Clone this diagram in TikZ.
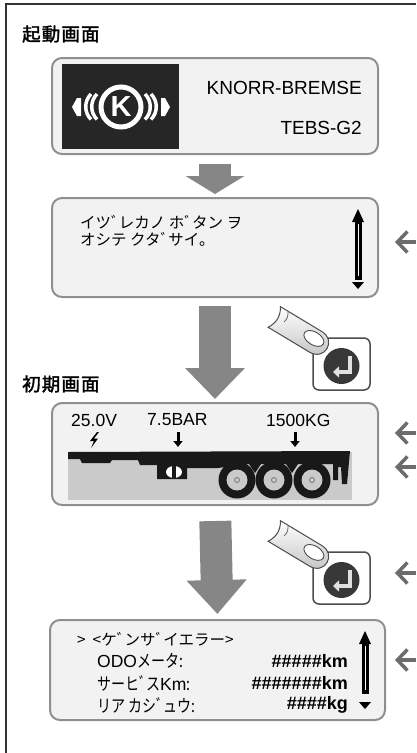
\documentclass[tikz,border=0pt]{standalone}
\usepackage{fontspec}
\setmainfont{Liberation Sans}
\newfontfamily\jp{Noto Sans CJK JP}
\newfontfamily\lcd[FakeStretch=0.8]{Noto Sans CJK JP}
\newfontfamily\headjp[FakeBold=1.8,LetterSpace=6]{Noto Sans CJK JP}
\usetikzlibrary{arrows.meta}

\definecolor{screenfill}{HTML}{F2F2F2}
\definecolor{screenline}{HTML}{8F8F8F}
\definecolor{flowgray}{HTML}{868686}
\definecolor{pointgray}{HTML}{6C6C6C}
\definecolor{roadgray}{HTML}{CACACA}

\tikzset{
  screen/.style={draw=screenline, fill=screenfill, line width=2pt,
    rounded corners=10pt, inner sep=0pt},
  heading/.style={anchor=west, inner sep=0pt, font=\headjp\fontsize{18.5}{20}\selectfont},
  flow/.style={draw=flowgray, line width=32pt,
    -{Triangle[length=#1,width=58pt]}},
  flow/.default=18pt,
  pointer/.style={draw=pointgray, line width=3.5pt,
    -{Straight Barb[length=10pt,width=21pt]}},
  txt/.style={inner sep=0pt, font=\fontsize{19}{21}\selectfont},
  small/.style={inner sep=0pt, font=\fontsize{17.5}{19}\selectfont},
  kana/.style={anchor=west, inner sep=0pt, font=\jp\fontsize{15.5}{17}\selectfont},
  row/.style={anchor=west, inner sep=0pt, font=\fontsize{17.5}{19}\selectfont},
  val/.style={anchor=east, inner sep=0pt, font=\bfseries\fontsize{18}{20}\selectfont},
  enterkey/.style={draw=black!70, fill=white, line width=1.5pt,
    rounded corners=6pt, minimum width=57pt, minimum height=52pt, inner sep=0pt},
}

\begin{document}
\begin{tikzpicture}[x=1pt,y=-1pt]
\useasboundingbox (0,0) rectangle (416,753);

% outer frame (open at right and bottom)
\draw[line width=2.5pt, black!80] (6,753) -- (6,4) -- (416,4);

% --- start-up screen ---
\node[heading] (bootlbl) at (22,34) {起動画面};
\node[screen, minimum width=326pt, minimum height=96pt] (boot) at (215,106) {};
\fill[black!85] (62,64) rectangle (179,149);
% logo
\draw[white, line width=5pt] (121,107) circle [radius=20];
\node[inner sep=0pt, white, font=\bfseries\fontsize{29}{29}\selectfont] (logok) at (121,107) {K};
\draw[white, line width=3.5pt] (91,94) arc [start angle=225, end angle=135, radius=18];
\draw[white, line width=3.5pt] (97,94) arc [start angle=225, end angle=135, radius=18];
\draw[white, line width=3.5pt] (151,94) arc [start angle=-45, end angle=45, radius=18];
\draw[white, line width=3.5pt] (145,94) arc [start angle=-45, end angle=45, radius=18];
\fill[white] (72,107) -- (77,98) -- (81,98) -- (81,116) -- (77,116) -- cycle;
\fill[white] (170,107) -- (165,98) -- (161,98) -- (161,116) -- (165,116) -- cycle;
\node[txt, anchor=east] (maker) at (362,88) {KNORR-BREMSE};
\node[txt, anchor=east] (model) at (362,128) {TEBS-G2};

% --- prompt screen ---
\node[screen, minimum width=326pt, minimum height=99pt] (prompt) at (215,247.5) {};
\node[kana] (msg1) at (80,222) {イツﾞレカノ ホﾞタン ヲ};
\node[kana] (msg2) at (80,239) {オシテ クタﾞサイ。};
% scroll bar
\fill[black] (352,222) -- (358,209) -- (364,222) -- cycle;
\fill[black] (354.5,219) rectangle (361.5,280);
\draw[white, line width=0.8pt] (358,224) -- (358,276);
\fill[black] (352,282) -- (364,282) -- (358,289) -- cycle;

% --- initial screen ---
\node[heading] (homelbl) at (22,384) {初期画面};
\node[screen, minimum width=326pt, minimum height=102pt] (home) at (215,454) {};
\node[small, anchor=west] (volt) at (71,420) {25.0V};
\node[small, anchor=west] (press) at (147,420) {7.5BAR};
\node[small, anchor=west] (load) at (266,420) {1500KG};
\fill[black] (97,432) -- (90,441) -- (94,441) -- (91,448) -- (98,438.5) -- (94,438.5) -- (99,432) -- cycle;
\draw[line width=3pt, -{Triangle[length=6pt,width=9pt]}] (178,432) -- (178,447);
\draw[line width=3pt, -{Triangle[length=6pt,width=9pt]}] (295,432) -- (295,447);
% trailer
\fill[roadgray] (68,452) rectangle (352,500);
\fill[black!90] (68,452) -- (350,451) -- (347,484) -- (342,484) -- (341,467) -- (338,467)
  -- (338,480) -- (333,480) -- (333,464) -- (298,464) -- (292,473) -- (286,464)
  -- (261,464) -- (255,473) -- (249,464) -- (218,468) -- (187,468) -- (187,479)
  -- (157,479) -- (157,465) -- (140,465) -- (138,460) -- (112,460) -- (110,463)
  -- (82,463) -- (80,459) -- (68,459) -- cycle;
\fill[white] (174,472) ellipse [x radius=8, y radius=6];
\fill[black!90] (172,466) rectangle (176,478);
\foreach \wx in {237,274,312} {
  \fill[black!90] (\wx,480) circle [radius=18.5];
  \fill[roadgray] (\wx,480) circle [radius=10.5];
  \draw[black!55, line width=0.8pt] (\wx,480) circle [radius=2.5];
}

% --- error list screen ---
\node[screen, minimum width=335pt, minimum height=100pt] (errs) at (217.5,670) {};
\node[row, font=\jp\fontsize{15.5}{17}\selectfont] (errhead) at (77,639) {>\ \ <ケﾞンサﾞイエラー>};
\node[row] (odo) at (97,661) {ODO{\lcd メータ:}};
\node[row] (svc) at (97,683) {{\lcd サーヒﾞス}Km{\lcd :}};
\node[row] (axle) at (97,705) {{\lcd リア カシﾞュウ:}};
\node[val] (odoval) at (348,661) {\#\#\#\#\#km};
\node[val] (svcval) at (348,683) {\#\#\#\#\#\#\#km};
\node[val] (axleval) at (348,705) {\#\#\#\#kg};
\fill[black] (359,644) -- (365,631) -- (371,644) -- cycle;
\fill[black] (361.5,641) rectangle (368.5,694);
\draw[white, line width=0.8pt] (365,646) -- (365,690);
\fill[black] (359,702) -- (371,702) -- (365,709) -- cycle;

% --- flow between screens ---
\draw[flow, shorten <=9pt, shorten >=3pt] (boot.south) -- (prompt.north);
\draw[flow=31pt, shorten <=8pt, shorten >=3pt] (prompt.south) -- (home.north);
\draw[flow=34pt, shorten <=15pt, shorten >=5pt] (home.south) -- (errs.north);

% --- enter key pressed by a finger ---
\foreach \dy [count=\k] in {0,214} {
  \node[enterkey] (enter\k) at (341.5,364+\dy) {};
  \fill[black!78] (341.5,366+\dy) circle [radius=18];
  \draw[black!12, line width=4pt, -{Triangle[length=6pt,width=11pt]}]
    (350,356+\dy) -- (350,372+\dy) -- (333,372+\dy);
  \begin{scope}[shift={(276,318+\dy)}, rotate=-31]
    \shadedraw[top color=white, bottom color=black!25, draw=black!70, line width=1pt]
      (-2,-12) -- (46,-12) .. controls (64,-12) and (64,12) .. (46,12) -- (-2,12)
      .. controls (3,4) and (3,-4) .. (-2,-12) -- cycle;
    \draw[fill=white, draw=black!70, line width=0.9pt] (43,-2) ellipse [x radius=11, y radius=6.5];
    \draw[black!60, line width=0.8pt] (7,-12) .. controls (10,-6) .. (9,-1);
  \end{scope}
}

% --- pointers on the right ---
\foreach \py [count=\k] in {242,433,467,573,660} {
  \coordinate (tip\k) at (395,\py);
  \coordinate (tail\k) at (416,\py);
  \draw[pointer] (tail\k) -- (tip\k);
}
\end{tikzpicture}
\end{document}
